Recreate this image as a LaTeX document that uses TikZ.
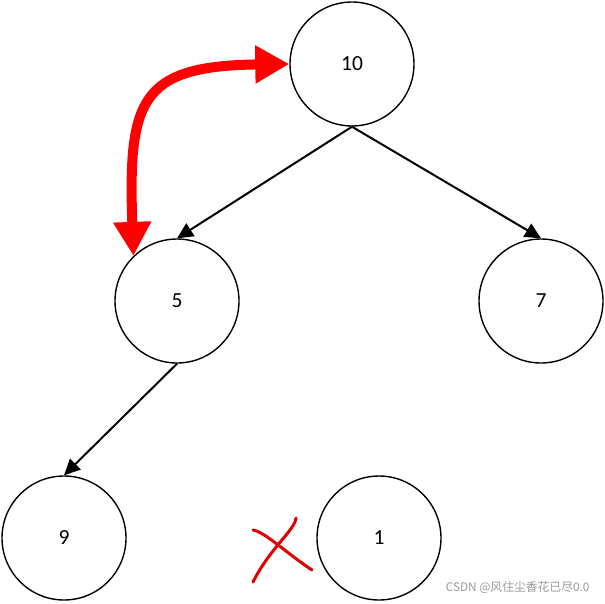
\documentclass[tikz,border=0pt]{standalone}
\usepackage{fontspec}
\setmainfont{Carlito}
\newfontfamily\cjk{Noto Sans CJK SC}
\usetikzlibrary{arrows.meta}
\begin{document}
\begin{tikzpicture}[x=1pt,y=-1pt,
  treenode/.style={circle,draw=black,line width=1.4pt,minimum size=124pt,inner sep=0pt,font=\fontsize{21.5}{24}\selectfont},
  edge/.style={line width=2pt,-{Triangle[length=16pt,width=15pt]}},
  swaparrow/.style={red,line width=10pt,{Triangle[length=34pt,width=36pt]}-{Triangle[length=34pt,width=36pt]}},
  cross/.style={draw=red!88!black,line width=3pt,line cap=round}]
\useasboundingbox (0,0) rectangle (605,603);
\node[treenode] (n10) at (352,64) {10};
\node[treenode] (n5) at (177,301) {5};
\node[treenode] (n7) at (541,301) {7};
\node[treenode] (n9) at (64,538) {9};
\node[treenode] (n1) at (379,538) {1};
\draw[edge] (n10.south) -- (n5.north);
\draw[edge] (n10.south) -- (n7.north);
\draw[edge] (n5.south) -- (n9.north);
\draw[swaparrow] (n5.134) .. controls (128,100) and (140,66) .. (n10.west);
\coordinate (xa1) at (253,530);
\coordinate (xa2) at (312,570);
\coordinate (xb1) at (296,518);
\coordinate (xb2) at (253,582);
\draw[cross] (xa1) .. controls (265,532) and (285,552) .. (xa2);
\draw[cross] (xb1) .. controls (295,530) and (270,548) .. (xb2);
\node[anchor=east,text=black!40,font=\cjk\fontsize{11.8}{14}\selectfont] (wm) at (593,588) {CSDN @风住尘香花已尽0.0};
\end{tikzpicture}
\end{document}
